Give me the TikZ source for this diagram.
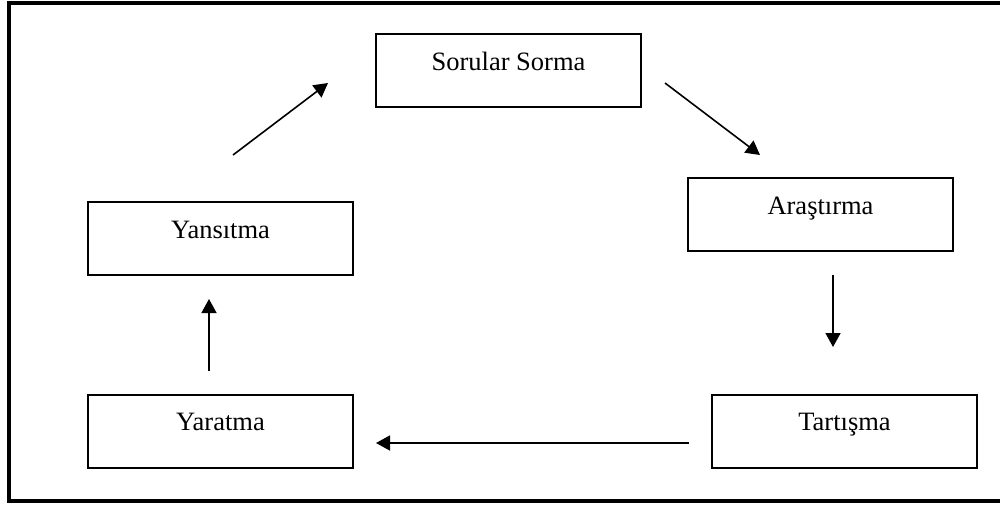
\documentclass[tikz,border=0pt]{standalone}
\usepackage{fontspec}
\setmainfont{Liberation Serif}
\usepackage{tikz}
\usetikzlibrary{arrows.meta}

\begin{document}
\begin{tikzpicture}[x=1pt,y=-1pt,
  stagebox/.style={draw, line width=2pt, inner sep=0pt, minimum width=265pt,
    text height=36pt, text depth=37pt, font=\fontsize{26.5}{30}\selectfont},
  cycarrow/.style={line width=1.6pt, -{Triangle[length=14pt,width=15pt]}}]
\useasboundingbox (0,0) rectangle (1000,504);
\draw[line width=4pt] (1002,3) -- (9,3) -- (9,501) -- (1002,501);
\node[stagebox] (sorular) at (508.5,70.5) {Sorular Sorma};
\node[stagebox] (arastirma) at (820.5,214.5) {Araştırma};
\node[stagebox] (tartisma) at (844.5,431) {Tartışma};
\node[stagebox] (yaratma) at (220.5,431) {Yaratma};
\node[stagebox] (yansitma) at (220.5,238.5) {Yansıtma};
\coordinate (yans out) at (233,155);
\coordinate (sor in) at (328,83);
\coordinate (sor out) at (665,83);
\coordinate (ara in) at (760,155);
\coordinate (ara out) at (833,275);
\coordinate (tar in) at (833,347);
\coordinate (tar out) at (689,443);
\coordinate (yar in) at (376,443);
\coordinate (yar out) at (209,371);
\coordinate (yans in) at (209,299);
\draw[cycarrow] (yans out) -- (sor in);
\draw[cycarrow] (sor out) -- (ara in);
\draw[cycarrow] (ara out) -- (tar in);
\draw[cycarrow] (tar out) -- (yar in);
\draw[cycarrow] (yar out) -- (yans in);
\end{tikzpicture}
\end{document}
